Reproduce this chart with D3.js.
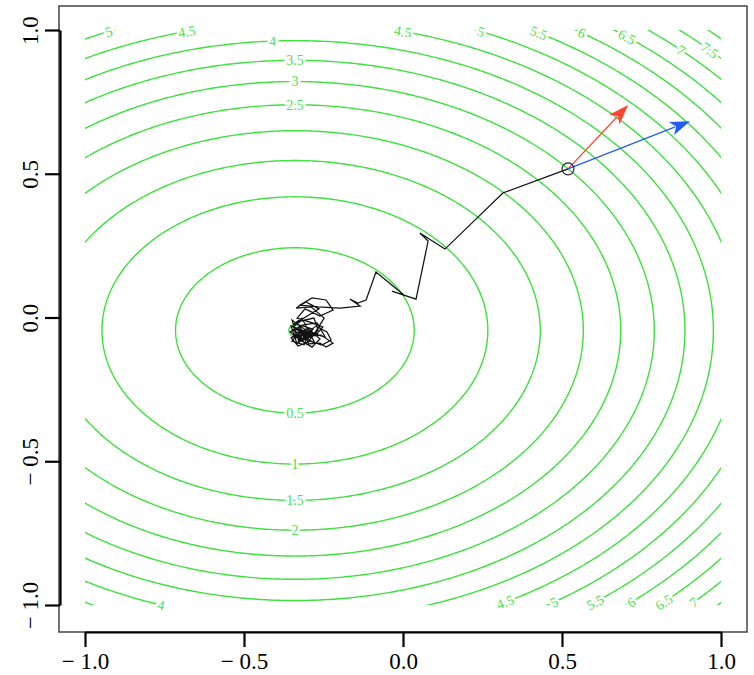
<!DOCTYPE html>
<html>
<head>
<meta charset="utf-8">
<script src="https://cdn.jsdelivr.net/npm/d3@7"></script>
<style>
  body { margin: 0; background: #fff; }
  text { font-family: "Liberation Serif", "DejaVu Serif", serif; }
</style>
</head>
<body>
<div id="chart"></div>
<script>
////////////////////////////////////////////////////////////////////////
// data

// quadratic surface: f = fMin + a*(x-cx)^2 + b*(y-cy)^2
let surfCenter = [-0.34, -0.045];
let surfCoef = [2.2, 3.75];
let surfMin = 0.19;

let levels = [0.5, 1, 1.5, 2, 2.5, 3, 3.5, 4, 4.5, 5, 5.5, 6, 6.5, 7, 7.5, 8];

// [level, fixed axis, fixed value, side]
let contourLabels = [
  [0.5, "x", -0.34, -1], [1, "x", -0.34, -1], [1.5, "x", -0.34, -1], [2, "x", -0.34, -1],
  [2.5, "x", -0.34, 1], [3, "x", -0.34, 1], [3.5, "x", -0.34, 1], [4, "x", -0.41, 1],
  [4, "y", -1.0, -1],
  [4.5, "y", 0.995, -1], [5, "y", 0.995, -1],
  [4.5, "y", 0.995, 1], [5, "y", 0.995, 1], [5.5, "y", 0.99, 1], [6, "y", 0.99, 1],
  [6.5, "y", 0.976, 1], [7, "y", 0.93, 1], [7.5, "y", 0.93, 1],
  [4.5, "y", -0.99, 1], [5, "y", -0.99, 1], [5.5, "y", -0.99, 1], [6, "y", -0.99, 1],
  [6.5, "y", -0.99, 1], [7, "y", -0.99, 1]
];

// descent path, then the wandering around the minimum
let trajX = [0.519, 0.314, 0.132, 0.053, 0.079, 0.041, -0.035, 0.003, -0.085, -0.116,
  -0.142, -0.167, -0.135, -0.198, -0.267,
  -0.324, -0.286, -0.242, -0.220, -0.261, -0.308, -0.333, -0.292, -0.252, -0.277,
  -0.324, -0.352, -0.330, -0.292, -0.255, -0.226, -0.239, -0.274, -0.311, -0.346,
  -0.321, -0.280, -0.267, -0.305, -0.336, -0.299, -0.261, -0.286, -0.324, -0.355,
  -0.314, -0.270, -0.245, -0.289, -0.333, -0.308, -0.277, -0.318, -0.343, -0.296,
  -0.264, -0.305, -0.336, -0.289, -0.248, -0.283, -0.327, -0.349, -0.302, -0.267,
  -0.340, -0.311, -0.283, -0.327, -0.296, -0.261, -0.242, -0.220, -0.258, -0.305,
  -0.333, -0.352, -0.318, -0.299, -0.336, -0.314, -0.346, -0.321, -0.292, -0.330,
  -0.305, -0.343, -0.318, -0.286, -0.327, -0.349, -0.311, -0.296, -0.333, -0.318];
let trajY = [0.517, 0.433, 0.238, 0.294, 0.266, 0.064, 0.092, 0.078, 0.158, 0.061,
  0.050, 0.064, 0.040, 0.033, 0.037,
  0.043, 0.068, 0.061, 0.026, 0.005, 0.030, -0.002, -0.016, -0.033, -0.064,
  -0.047, -0.071, -0.099, -0.082, -0.096, -0.078, -0.050, -0.030, -0.061, -0.033,
  -0.012, -0.002, -0.043, -0.092, -0.064, -0.037, -0.075, -0.103, -0.078, -0.050,
  -0.026, -0.019, -0.068, -0.054, -0.040, -0.071, -0.089, -0.002, -0.023, 0.009,
  0.030, 0.054, 0.033, 0.037, -0.002, -0.064, -0.085, -0.009, -0.047, -0.057,
  -0.054, -0.078, -0.040, -0.026, -0.092, -0.089, -0.103, -0.089, -0.061, -0.064,
  -0.092, -0.030, -0.043, -0.068, -0.057, -0.082, -0.040, -0.064, -0.050, -0.085,
  -0.040, -0.068, -0.075, -0.061, -0.050, -0.082, -0.095, -0.054, -0.071, -0.057];

// arrow tips, drawn from the first trajectory point
let arrowTips = [[0.708, 0.739], [0.903, 0.683]];
let arrowColors = ["#ff4433", "#1e5ef0"];

let xTicks = [-1, -0.5, 0, 0.5, 1];
let xTickLabels = ["\u2212 1.0", "\u2212 0.5", "0.0", "0.5", "1.0"];
let yTicks = [-1, -0.5, 0, 0.5, 1];
let yTickLabels = ["\u2212 1.0", "\u2212 0.5", "0.0", "0.5", "1.0"];

////////////////////////////////////////////////////////////////////////

let width = 754;
let height = 675;
let green = "#3ee03e";

let svg = d3.select("#chart").append("svg")
  .attr("width", width).attr("height", height);

let xScale = d3.scaleLinear().domain([-1, 1]).range([85, 721]);
let yScale = d3.scaleLinear().domain([-1, 1]).range([605, 30]);

function surf(x, y) {
  return surfMin + surfCoef[0] * (x - surfCenter[0]) ** 2
    + surfCoef[1] * (y - surfCenter[1]) ** 2;
}

// box
svg.append("rect")
  .attr("x", 59).attr("y", 6).attr("width", 688).attr("height", 626)
  .attr("fill", "none").attr("stroke", "#444").attr("stroke-width", 1.5);

svg.append("clipPath").attr("id", "plotclip")
  .append("rect")
  .attr("x", xScale(-1)).attr("y", yScale(1))
  .attr("width", xScale(1) - xScale(-1)).attr("height", yScale(-1) - yScale(1));

// contour grid, a bit larger than the plot so the clip hides the edges
let n = 241, g0 = -1.2, step = 0.01;
let values = new Array(n * n);
for (let j = 0; j < n; j++)
  for (let i = 0; i < n; i++)
    values[i + j * n] = surf(g0 + i * step, g0 + j * step);

let contours = d3.contours().size([n, n]).thresholds(levels)(values);

let proj = d3.geoTransform({
  point: function(px, py) {
    this.stream.point(xScale(g0 + (px - 0.5) * step), yScale(g0 + (py - 0.5) * step));
  }
});
let cpath = d3.geoPath(proj);

svg.append("g").attr("clip-path", "url(#plotclip)")
  .selectAll("path").data(contours).enter()
  .append("path")
  .attr("d", cpath)
  .attr("fill", "none")
  .attr("stroke", green)
  .attr("stroke-width", 1.4);

// contour labels
let labelG = svg.append("g");
contourLabels.forEach(function(l) {
  let lev = l[0], ax = l[1], at = l[2], side = l[3];
  let x, y;
  if (ax === "x") {
    x = at;
    let r = (lev - surfMin - surfCoef[0] * (x - surfCenter[0]) ** 2) / surfCoef[1];
    y = surfCenter[1] + side * Math.sqrt(Math.max(r, 0));
  } else {
    y = at;
    let r = (lev - surfMin - surfCoef[1] * (y - surfCenter[1]) ** 2) / surfCoef[0];
    x = surfCenter[0] + side * Math.sqrt(Math.max(r, 0));
  }
  // tangent direction in pixel space
  let gx = 2 * surfCoef[0] * (x - surfCenter[0]) / (xScale(1) - xScale(0));
  let gy = 2 * surfCoef[1] * (y - surfCenter[1]) / (yScale(1) - yScale(0));
  let ang = Math.atan2(gx, -gy) * 180 / Math.PI;
  if (ang > 90) ang -= 180;
  if (ang < -90) ang += 180;
  let px = xScale(x), py = yScale(y);
  labelG.append("text")
    .attr("transform", "translate(" + px + "," + py + ")rotate(" + ang + ")")
    .attr("text-anchor", "middle")
    .attr("dy", "0.35em")
    .attr("font-size", 14)
    .attr("fill", "#4ee04e")
    .attr("stroke", "#fff").attr("stroke-width", 5)
    .attr("paint-order", "stroke")
    .text(lev);
});

// minimum marker (mostly hidden under the walk)
svg.append("circle")
  .attr("cx", xScale(surfCenter[0])).attr("cy", yScale(surfCenter[1]))
  .attr("r", 6).attr("fill", "none").attr("stroke", green).attr("stroke-width", 1.4);

// trajectory
let traj = d3.zip(trajX, trajY);
let line = d3.line().x(d => xScale(d[0])).y(d => yScale(d[1]));
svg.append("path")
  .attr("d", line(traj))
  .attr("fill", "none")
  .attr("stroke", "#111")
  .attr("stroke-width", 1.25)
  .attr("stroke-linejoin", "miter");

// arrows
let x0 = xScale(trajX[0]), y0 = yScale(trajY[0]);
arrowTips.forEach(function(t, k) {
  let tx = xScale(t[0]), ty = yScale(t[1]);
  let dx = tx - x0, dy = ty - y0;
  let len = Math.sqrt(dx * dx + dy * dy);
  let ux = dx / len, uy = dy / len;
  let hl = 20, hw = 7;
  let bx = tx - ux * hl, by = ty - uy * hl;
  svg.append("line")
    .attr("x1", x0).attr("y1", y0).attr("x2", bx + ux * 4).attr("y2", by + uy * 4)
    .attr("stroke", arrowColors[k]).attr("stroke-width", 1.3);
  svg.append("polygon")
    .attr("points", [[tx, ty], [bx - uy * hw, by + ux * hw], [bx + ux * 5, by + uy * 5], [bx + uy * hw, by - ux * hw]].join(" "))
    .attr("fill", arrowColors[k]);
});

svg.append("circle")
  .attr("cx", x0).attr("cy", y0).attr("r", 6)
  .attr("fill", "none").attr("stroke", "#222").attr("stroke-width", 1.2);

// axes
let xAxis = svg.append("g")
  .attr("transform", "translate(0,632)")
  .call(d3.axisBottom(xScale).tickValues(xTicks).tickSize(15).tickSizeOuter(0)
    .tickFormat((d, i) => xTickLabels[i]));
xAxis.select(".domain").attr("stroke-width", 2.2);
xAxis.selectAll(".tick line").attr("stroke-width", 2.2);
xAxis.selectAll(".tick text")
  .attr("y", 37).attr("dy", 0)
  .attr("font-size", 23)
  .attr("fill", "#000");

let yAxis = svg.append("g")
  .attr("transform", "translate(60,0)")
  .call(d3.axisLeft(yScale).tickValues(yTicks).tickSize(15).tickSizeOuter(0)
    .tickFormat((d, i) => yTickLabels[i]));
yAxis.select(".domain").attr("stroke-width", 2.2);
yAxis.selectAll(".tick line").attr("stroke-width", 2.2);
yAxis.selectAll(".tick text")
  .attr("transform", "rotate(-90)")
  .attr("x", 0).attr("y", -22).attr("dy", 0)
  .attr("text-anchor", "middle")
  .attr("font-size", 23)
  .attr("fill", "#000");
</script>
</body>
</html>
